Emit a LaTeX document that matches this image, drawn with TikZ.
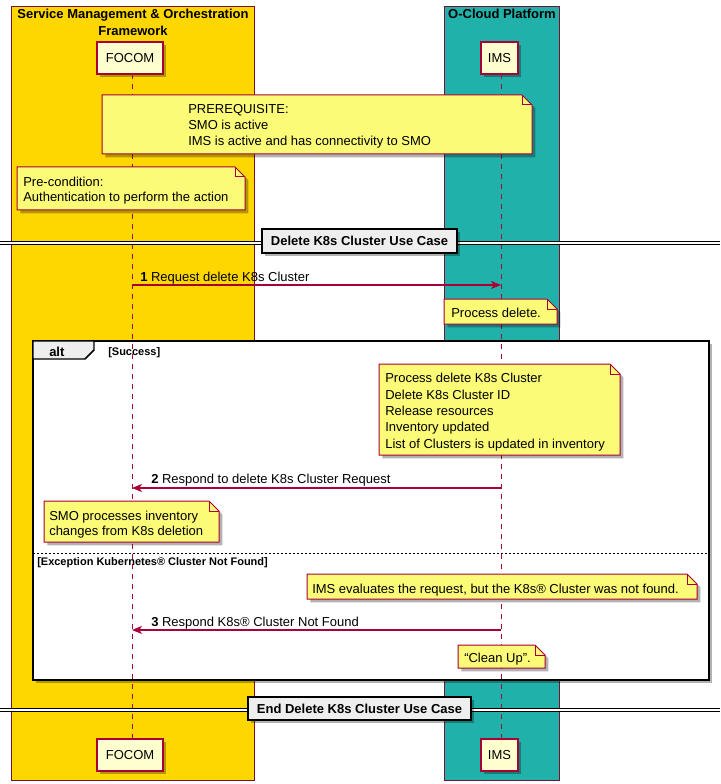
\documentclass[tikz,border=0pt]{standalone}
\usepackage{fontspec}
\setmainfont{Liberation Sans}
\usetikzlibrary{arrows.meta,shadows}
\definecolor{pline}{HTML}{A80036}
\definecolor{pfill}{HTML}{FEFECE}
\definecolor{nfill}{HTML}{FBFB77}
\definecolor{gold}{HTML}{FFD700}
\definecolor{tealbox}{HTML}{20B2AA}
\definecolor{divfill}{HTML}{EEEEEE}
\definecolor{boxline}{HTML}{7A1030}
\newcommand\fsn{\fontsize{9.75}{12.3}\selectfont}
\newcommand\fsb{\fontsize{9.75}{12.75}\selectfont\bfseries}
\newcommand\fss{\fontsize{8.25}{10}\selectfont\bfseries}
\newcommand\pnote[4]{%
  \path[notebg] (#1,#2) -- ({#3-10},#2) -- (#3,{#2+10}) -- (#3,#4) -- (#1,#4) -- cycle;
  \draw[pline, line width=0.75pt] ({#3-10},#2) -- ({#3-10},{#2+10}) -- (#3,{#2+10});
}
\tikzset{
  shad/.style={drop shadow={opacity=0.3, shadow xshift=2.5pt, shadow yshift=-2.5pt, fill=black}},
  part/.style={draw=pline, line width=1.1pt, fill=pfill, minimum width=49.5pt, minimum height=24pt, inner sep=0pt, font=\fsn, shad},
  txt/.style={inner sep=0pt, font=\fsn, anchor=base west, align=left},
  life/.style={draw=pline, line width=0.75pt, dash pattern=on 3.75pt off 3.75pt},
  msg/.style={draw=pline, line width=1pt, -{Stealth[length=7.5pt,width=6pt,inset=2pt]}},
  notebg/.style={draw=pline, line width=0.75pt, fill=nfill, shad},
  grp/.style={draw=boxline, line width=0.75pt},
  divbox/.style={draw=black, line width=1.1pt, fill=divfill, shad, inner sep=0pt, font=\fsb},
  dline/.style={draw=black, line width=0.75pt},
}
\begin{document}
\begin{tikzpicture}[x=0.75pt,y=-0.75pt]
\useasboundingbox (0,0) rectangle (720,784);
\fill[white] (0,0) rectangle (720,784);
% group boxes
\path[grp, fill=gold] (11,7) rectangle (254,780);
\path[grp, fill=tealbox] (444,7) rectangle (559,780);
\node[inner sep=0pt, font=\fsb, align=center, anchor=base] (gt1) at (133,36) {Service Management \& Orchestration\\Framework};
\node[inner sep=0pt, font=\fsb, anchor=base] (gt2) at (502,19) {O-Cloud Platform};
% alt frame
\path[draw=black, line width=1.5pt, fill=white, shad] (33,341) rectangle (709,680);
% participants
\node[part] (focomT) at (130,58) {FOCOM};
\node[part, minimum width=27.75pt] (imsT) at (499.5,58) {IMS};
\node[part] (focomB) at (130,755) {FOCOM};
\node[part, minimum width=27.75pt] (imsB) at (499.5,755) {IMS};
\coordinate (fl1) at (132,74); \coordinate (fl2) at (132,739);
\coordinate (il1) at (501,74); \coordinate (il2) at (501,739);
\draw[life] (fl1) -- (fl2);
\draw[life] (il1) -- (il2);
% notes
\pnote{102}{95}{532}{154}
\node[txt, font=\fsn] (n1) at (188,146) {PREREQUISITE:\\SMO is active\\IMS is active and has connectivity to SMO};
\pnote{17}{167}{245}{210}
\node[txt, font=\fontsize{9.75}{11.25}\selectfont] (n2) at (23,202) {Pre-condition:\\Authentication to perform the action};
% divider 1
\fill[white] (0,241) rectangle (720,244);
\draw[dline] (0,241) -- (720,241);
\draw[dline] (0,244) -- (720,244);
\node[divbox, minimum width=146.25pt, minimum height=18pt] (d1) at (359.5,241) {Delete K8s Cluster Use Case};
% message 1
\coordinate (m1a) at (132,285); \coordinate (m1b) at (501,285);
\draw[msg] (m1a) -- (m1b);
\node[txt] (m1t) at (140,281) {\textbf{1} Request delete K8s Cluster};
\pnote{444}{299}{557}{324}
\node[txt] (n3) at (451,317) {Process delete.};
% alt tab
\path[draw=black, line width=1.1pt, fill=divfill] (33,341) -- (94,341) -- (94,350) -- (85,359) -- (33,359) -- cycle;
\node[inner sep=0pt, font=\fsb, anchor=base west] (alt) at (49,356) {alt};
\node[inner sep=0pt, font=\fss, anchor=base west] (g1) at (108,355) {[Success]};
\pnote{379}{364}{620}{455}
\node[txt, font=\fontsize{9.75}{12.2}\selectfont] (n4) at (385,448) {Process delete K8s Cluster\\Delete K8s Cluster ID\\Release resources\\Inventory updated\\List of Clusters is updated in inventory};
% message 2
\coordinate (m2a) at (501,488); \coordinate (m2b) at (132,488);
\draw[msg] (m2a) -- (m2b);
\node[txt] (m2t) at (151,483) {\textbf{2} Respond to delete K8s Cluster Request};
\pnote{44}{501}{219}{542}
\node[txt, font=\fontsize{9.75}{11.25}\selectfont] (n5) at (49,535) {SMO processes inventory\\changes from K8s deletion};
% else separator
\coordinate (s1) at (33,553); \coordinate (s2) at (709,553);
\draw[black, line width=0.75pt, dash pattern=on 1.5pt off 1.5pt] (s1) -- (s2);
\node[inner sep=0pt, font=\fss, anchor=base west] (g2) at (37,565) {[Exception Kubernetes® Cluster Not Found]};
\pnote{307}{574}{697}{599}
\node[txt] (n6) at (312,593) {IMS evaluates the request, but the K8s® Cluster was not found.};
% message 3
\coordinate (m3a) at (501,630); \coordinate (m3b) at (132,630);
\draw[msg] (m3a) -- (m3b);
\node[txt] (m3t) at (151,626) {\textbf{3} Respond K8s® Cluster Not Found};
\pnote{458}{645}{545}{668}
\node[txt] (n7) at (464,662) {“Clean Up”.};
% divider 2
\fill[white] (0,708) rectangle (720,711);
\draw[dline] (0,708) -- (720,708);
\draw[dline] (0,711) -- (720,711);
\node[divbox, minimum width=167.25pt, minimum height=17.25pt] (d2) at (359.5,708.5) {End Delete K8s Cluster Use Case};
\end{tikzpicture}
\end{document}
